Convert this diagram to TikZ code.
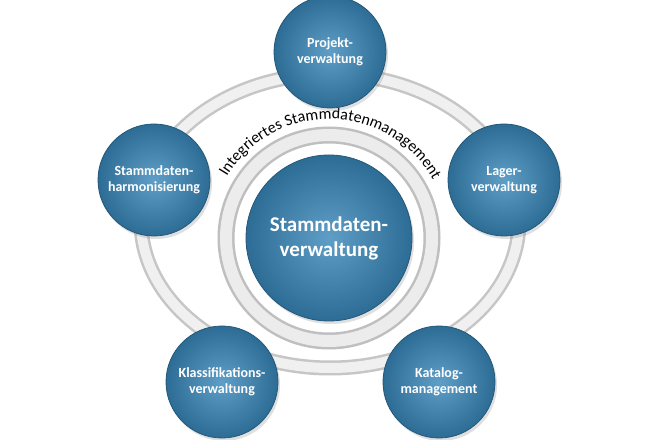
\documentclass[tikz,border=0pt]{standalone}
\usepackage{fontspec}
\setmainfont{Carlito}
\usetikzlibrary{decorations.text,shadows}
\begin{document}
\begin{tikzpicture}[x=1pt,y=1pt,
  ball/.style={circle,minimum size=#1,inner sep=0pt,align=center,text=white,
    font=\bfseries\fontsize{14}{16}\selectfont,
    shading=radial,inner color={rgb,255:red,95;green,158;blue,198},
    outer color={rgb,255:red,45;green,108;blue,148},
    draw={rgb,255:red,35;green,88;blue,122},line width=0.8pt,
    drop shadow={opacity=0.25,shadow xshift=2pt,shadow yshift=-3pt}},
  ball/.default=112pt]
\useasboundingbox (0,0) rectangle (658,439);
\fill[white] (0,0) rectangle (658,439);
% big ring
\draw[gray!45,line width=15pt] (330,218) ellipse[x radius=189,y radius=147];
\draw[gray!12,line width=10pt] (330,218) ellipse[x radius=189,y radius=147];
% inner ring
\draw[gray!50,line width=17pt] (329,201) circle[radius=103];
\draw[gray!15,line width=12pt] (329,201) circle[radius=103];
\node[ball=166pt,font=\bfseries\fontsize{21}{25}\selectfont] (c) at (329,201) {Stammdaten-\\verwaltung};
\path[decorate,decoration={text along path,text align=center,
  text={|\fontsize{16}{18}\selectfont|Integriertes Stammdatenmanagement}}]
  (329,201) ++(162:119) arc[start angle=162,end angle=16,radius=119];
\node[ball] (p) at (330,387) {Projekt-\\verwaltung};
\node[ball] (l) at (504,259) {Lager-\\verwaltung};
\node[ball] (h) at (154,259) {Stammdaten-\\harmonisierung};
\node[ball] (k) at (222,57) {Klassifikations-\\verwaltung};
\node[ball] (m) at (439,57) {Katalog-\\management};
\end{tikzpicture}
\end{document}
